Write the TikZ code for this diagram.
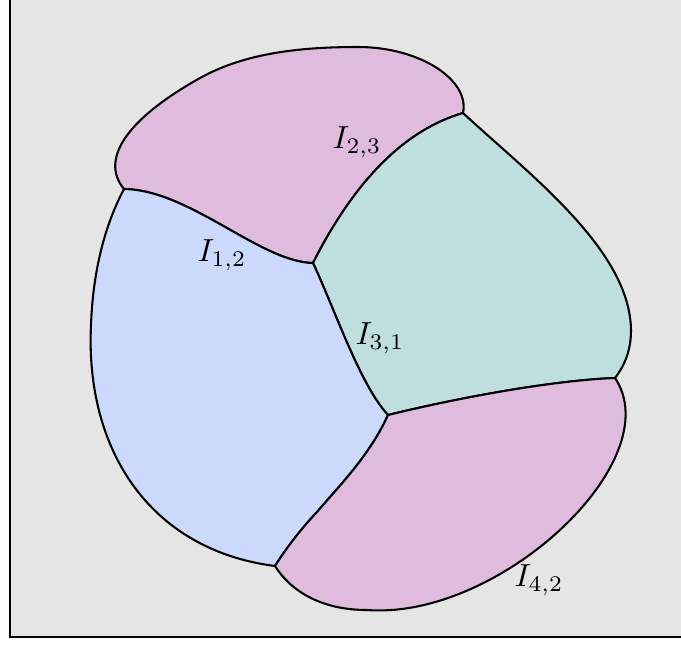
\documentclass[tikz,border=0pt]{standalone}
\usepackage{tikz}
\definecolor{panelgray}{HTML}{E5E5E5}
\definecolor{regionpink}{HTML}{DFBCDE}
\definecolor{regionblue}{HTML}{CAD9FC}
\definecolor{regionteal}{HTML}{BFDFDF}
\tikzset{
  region/.style={draw=black,line width=0.65pt,line join=round},
  cutlabel/.style={inner sep=0pt}
}

\begin{document}
\begin{tikzpicture}[x=0.011cm,y=-0.011cm]
  \useasboundingbox (0,0) rectangle (681,648);
  \clip (0,0) rectangle (681,648);
  \fill[white] (0,0) rectangle (681,648);
  \path[fill=panelgray,draw=black,line width=0.8pt] (10,-20) rectangle (700,637);

  % junctions
  \coordinate (A) at (124,189);
  \coordinate (B) at (313,263);
  \coordinate (C) at (463,113);
  \coordinate (D) at (388,415);
  \coordinate (E) at (615,378);
  \coordinate (F) at (275,566);

  % upper pink piece
  \path[region,fill=regionpink] (A) .. controls (100,160) and (125,120) .. (200,78)
    .. controls (245,53) and (300,47) .. (358,47)
    .. controls (420,47) and (470,80) .. (C)
    .. controls (405,130) and (355,180) .. (B)
    .. controls (260,262) and (190,190) .. cycle;
  % teal piece
  \path[region,fill=regionteal] (C) .. controls (530,175) and (630,250) .. (631,330)
    .. controls (631,350) and (625,365) .. (E)
    .. controls (560,380) and (470,395) .. (D)
    .. controls (360,385) and (335,310) .. (B)
    .. controls (355,180) and (405,130) .. cycle;
  % blue piece
  \path[region,fill=regionblue] (A) .. controls (190,190) and (260,262) .. (B)
    .. controls (335,310) and (360,385) .. (D)
    .. controls (370,455) and (340,485) .. (317,512)
    .. controls (300,530) and (285,550) .. (F)
    .. controls (150,550) and (85,450) .. (91,325)
    .. controls (93,270) and (105,225) .. cycle;
  % lower pink piece
  \path[region,fill=regionpink] (D) .. controls (470,395) and (560,380) .. (E)
    .. controls (670,460) and (500,620) .. (367,610)
    .. controls (320,610) and (290,590) .. (F)
    .. controls (285,550) and (300,530) .. (317,512)
    .. controls (340,485) and (370,455) .. cycle;

  \node[cutlabel] (lab23) at (357,142) {$I_{2,3}$};
  \node[cutlabel] (lab12) at (222,255) {$I_{1,2}$};
  \node[cutlabel] (lab31) at (380,338) {$I_{3,1}$};
  \node[cutlabel] (lab42) at (539,580) {$I_{4,2}$};
\end{tikzpicture}
\end{document}
